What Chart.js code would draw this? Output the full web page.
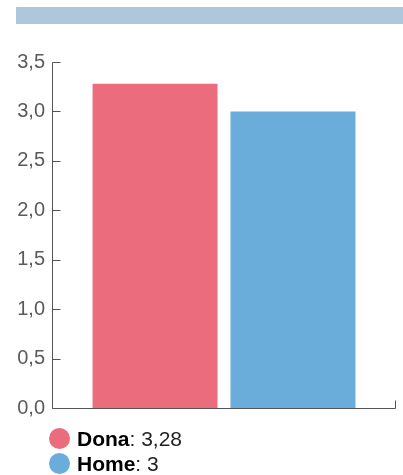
<!DOCTYPE html>
<html lang="ca">
<head>
<meta charset="UTF-8">
<title>Dona / Home</title>
<script src="https://cdn.jsdelivr.net/npm/chart.js"></script>
<style>
  body { margin: 0; width: 403px; height: 475px; position: relative; background: #fff; font-family: "Liberation Sans", Arial, sans-serif; overflow: hidden; }
  #band { position: absolute; left: 16px; top: 7px; width: 387px; height: 17px; background: #afc6dd; }
  #wrap { position: absolute; left: 0; top: 0; width: 403px; height: 427px; }
  #legend { position: absolute; left: 49px; top: 426px; font-size: 21px; color: #222; }
  #legend .row { height: 25px; line-height: 25px; display: flex; align-items: center; }
  #legend .dot { width: 21px; height: 21px; border-radius: 50%; margin-right: 7px; }
  #legend b { color: #000; }
</style>
</head>
<body>
<div id="band"></div>
<div id="wrap"><canvas id="chart"></canvas></div>
<div id="legend"></div>
<script>
  const categories = ['Dona', 'Home'];
  const values = [3.28, 3];
  const colors = ['#eb6c7d', '#6aaddb'];
  const yTicks = [0, 0.5, 1, 1.5, 2, 2.5, 3, 3.5];

  const fmt = v => String(v).replace('.', ',');
  const axisColor = '#555';

  // axis lines plus ticks drawn inward
  const axes = {
    id: 'axes',
    afterDraw(chart) {
      const ctx = chart.ctx, y = chart.scales.y, a = chart.chartArea;
      const left = Math.round(a.left) + 0.5, bottom = Math.round(a.bottom) + 0.5, right = Math.round(a.right) - 0.5;
      ctx.save();
      ctx.strokeStyle = axisColor;
      ctx.lineWidth = 1;
      ctx.beginPath();
      ctx.moveTo(left, Math.round(y.getPixelForValue(3.5)) + 0.5);
      ctx.lineTo(left, bottom);
      ctx.lineTo(right, bottom);
      ctx.lineTo(right, bottom - 8);
      yTicks.forEach(t => {
        const py = Math.round(y.getPixelForValue(t)) + 0.5;
        ctx.moveTo(left, py);
        ctx.lineTo(left + 8, py);
      });
      ctx.stroke();
      ctx.restore();
    }
  };

  new Chart(document.getElementById('chart'), {
    type: 'bar',
    data: {
      labels: [''],
      datasets: categories.map((c, i) => ({
        label: c,
        data: [values[i]],
        backgroundColor: colors[i],
        categoryPercentage: 0.802,
        barPercentage: 0.906
      }))
    },
    options: {
      responsive: true,
      maintainAspectRatio: false,
      animation: false,
      layout: { padding: { top: 62, right: 7, left: 0, bottom: 0 } },
      plugins: { legend: { display: false }, tooltip: { enabled: false } },
      scales: {
        x: {
          grid: { display: false },
          border: { display: false },
          ticks: { display: false },
          afterFit(s) { s.height = 4; }
        },
        y: {
          min: 0, max: 3.5,
          afterBuildTicks(s) { s.ticks = yTicks.map(v => ({ value: v })); },
          grid: { display: false, drawTicks: false },
          border: { display: false },
          ticks: {
            padding: 7,
            color: '#5a5a5a',
            font: { family: 'Liberation Sans', size: 20 },
            callback: v => Number(v).toFixed(1).replace('.', ',')
          },
          afterFit(s) { s.width = 52; }
        }
      }
    },
    plugins: [axes]
  });

  document.getElementById('legend').innerHTML = categories.map((c, i) =>
    `<div class="row"><span class="dot" style="background:${colors[i]}"></span><span><b>${c}</b>: ${fmt(values[i])}</span></div>`
  ).join('');
</script>
</body>
</html>
